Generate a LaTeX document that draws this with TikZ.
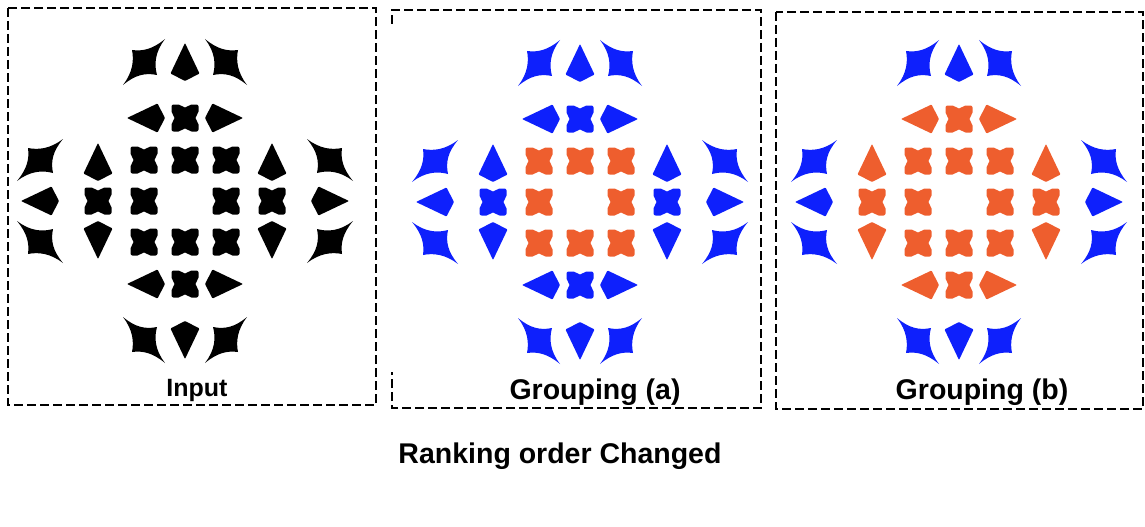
\documentclass[tikz,border=0pt]{standalone}
\usepackage{fontspec}
\setmainfont{Liberation Sans}
\definecolor{grpblue}{RGB}{14,32,252}
\definecolor{grporange}{RGB}{238,94,46}
\tikzstyle{panel} = [draw,line width=2.4pt,dash pattern=on 9pt off 4pt]
\tikzstyle{grptext} = [font=\bfseries\fontsize{28.5}{30}\selectfont,inner sep=0pt]
\tikzset{
  blob/.pic={\fill[rounded corners=2pt] (-13.5,-13.5) -- (-4.5,-13.5) .. controls (-1.5,-10) and (1.5,-10) .. (4.5,-13.5) -- (13.5,-13.5) -- (13.5,-4.5) .. controls (10,-1.5) and (10,1.5) .. (13.5,4.5) -- (13.5,13.5) -- (4.5,13.5) .. controls (1.5,10) and (-1.5,10) .. (-4.5,13.5) -- (-13.5,13.5) -- (-13.5,4.5) .. controls (-10,1.5) and (-10,-1.5) .. (-13.5,-4.5) -- cycle;},
  kite/.pic={\fill[rounded corners=0.8pt] (19,0) -- (-11.5,14.5) -- (-19,0) -- (-11.5,-14.5) -- cycle;},
  spark/.pic={\fill (-12,-12) .. controls (-1,-10.5) and (9,-13) .. (21,-23) .. controls (11,-10) and (10,2) .. (13,13) .. controls (1,10.5) and (-9,13) .. (-21,23) .. controls (-11,10) and (-10,-2) .. (-12,-12) -- cycle;}
}
% #1 centre, #2 ring colour, #3 inner arm colour, #4 outer arm colour
\newcommand{\motif}[4]{%
  \begin{scope}[shift={#1},transform shape]
    \foreach \p in {(-41,-41),(0,-41),(41,-41),(-41,0),(41,0),(-41,41),(0,41),(41,41)}
      \pic[#2] at \p {blob};
    \foreach \r/\ia/\oa in {0/83/139,90/87/145,180/83/139,270/87/145}{
      \begin{scope}[rotate=\r]
        \pic[#3,rotate=180] at (-39,-\ia) {kite};
        \pic[#3] at (0,-\ia) {blob};
        \pic[#3] at (39,-\ia) {kite};
        \pic[#4] at (-41,-\oa) {spark};
        \pic[#4,rotate=90] at (0,-\oa) {kite};
        \pic[#4,xscale=-1] at (41,-\oa) {spark};
      \end{scope}}
  \end{scope}}

\begin{document}
\begin{tikzpicture}[x=1pt,y=-1pt]
\useasboundingbox (0,0) rectangle (1145,527);

\draw[panel] (8,8) rectangle (376,405);
\draw[panel] (392,24) -- (392,10) -- (761,10) -- (761,408) -- (392,408) -- (392,372);
\draw[panel] (776,12) rectangle (1143,409);

\motif{(185,201)}{black}{black}{black}
\motif{(580,202)}{grporange}{grpblue}{grpblue}
\motif{(959,202)}{grporange}{grporange}{grpblue}

\node[grptext,font=\bfseries\fontsize{25}{27}\selectfont] (input) at (197,390) {Input};
\node[grptext] (grpa) at (595,392) {Grouping (a)};
\node[grptext] (grpb) at (982,392) {Grouping (b)};
\node[grptext] (ranking) at (560,456) {Ranking order Changed};
\end{tikzpicture}
\end{document}
